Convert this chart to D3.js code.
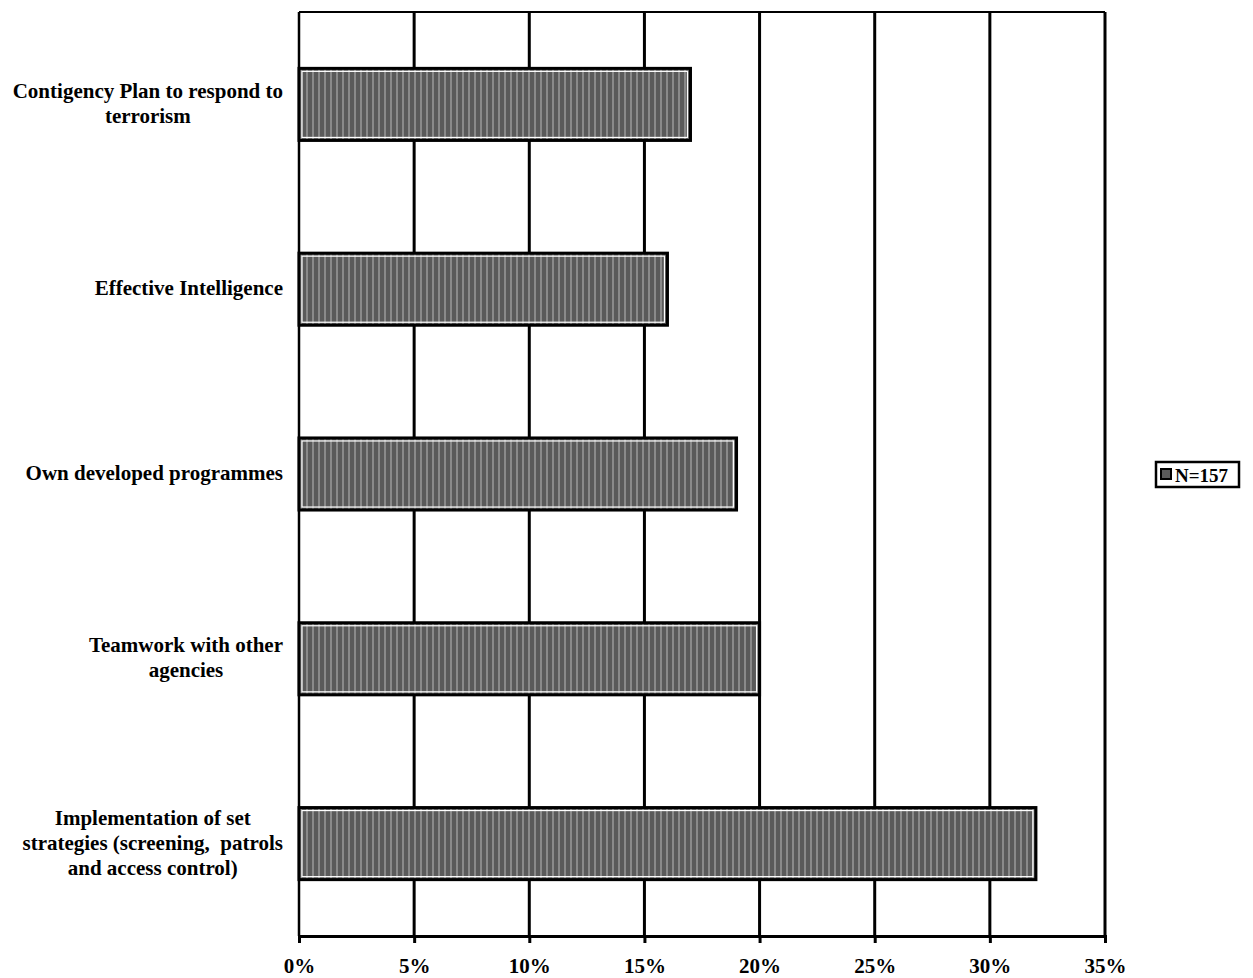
<!DOCTYPE html>
<html><head><meta charset="utf-8">
<script src="https://cdn.jsdelivr.net/npm/d3@7"></script>
<style>body{margin:0;background:#fff}svg{display:block}text{white-space:pre}</style>
</head><body>
<script>
const categories = [
  ["Contigency Plan to respond to", "terrorism"],
  ["Effective Intelligence"],
  ["Own developed programmes"],
  ["Teamwork with other", "agencies"],
  ["Implementation of set", "strategies (screening,  patrols", "and access control)"]
];
const values = [17, 16, 19, 20, 32];
const ticks = [0, 5, 10, 15, 20, 25, 30, 35];
const seriesName = "N=157";

const W = 1253, H = 978;
const svg = d3.select("body").append("svg").attr("width", W).attr("height", H);
const font = "'Liberation Serif','Times New Roman',serif";

const x = d3.scaleLinear().domain([0, 35]).range([299, 1105]);
const y = d3.scaleBand().domain(d3.range(categories.length)).range([12, 936]).paddingInner(0.61).paddingOuter(0.305);

// gridlines
svg.append("g").selectAll("line").data(ticks).join("line")
  .attr("x1", d => x(d)).attr("x2", d => x(d)).attr("y1", 12).attr("y2", 936)
  .attr("stroke", "#000").attr("stroke-width", d => d === 0 ? 2.5 : 3);
svg.append("line").attr("x1", x(0)).attr("x2", x(35)).attr("y1", 12).attr("y2", 12).attr("stroke", "#000").attr("stroke-width", 2);

// bottom axis
const ax = svg.append("g").attr("transform", "translate(0,936)")
  .call(d3.axisBottom(x).tickValues(ticks).tickFormat(d => d + "%").tickSize(7).tickPadding(15));
ax.select(".domain").attr("stroke-width", 3);
ax.selectAll(".tick line").attr("stroke-width", 3);
ax.selectAll("text").attr("font-family", font).attr("font-weight", "bold").attr("font-size", 21).attr("fill", "#000");

// pattern
const defs = svg.append("defs");
const pat = defs.append("pattern").attr("id", "stripe").attr("width", 6).attr("height", 4).attr("patternUnits", "userSpaceOnUse");
pat.append("rect").attr("width", 6).attr("height", 4).attr("fill", "#5a5a5a");
pat.append("rect").attr("width", 2).attr("height", 4).attr("fill", "#8a8a8a");

// bars
const bars = svg.append("g").selectAll("g").data(values).join("g");
bars.append("rect")
  .attr("x", x(0)).attr("y", (d, i) => y(i))
  .attr("width", d => x(d) - x(0)).attr("height", y.bandwidth())
  .attr("fill", "url(#stripe)").attr("stroke", "#000").attr("stroke-width", 3);
bars.append("rect")
  .attr("x", x(0) + 3).attr("y", (d, i) => y(i) + 3)
  .attr("width", d => x(d) - x(0) - 6).attr("height", y.bandwidth() - 6)
  .attr("fill", "none").attr("stroke", "#fff").attr("stroke-width", 1.2);

// category labels
const lh = 25;
categories.forEach((lines, i) => {
  const cy = y(i) + y.bandwidth() / 2;
  const g = svg.append("g");
  const texts = lines.map((l, k) => g.append("text")
    .attr("font-family", font).attr("font-weight", "bold").attr("font-size", 21)
    .attr("fill", "#000").attr("text-anchor", "middle")
    .attr("y", cy + (k - (lines.length - 1) / 2) * lh + 6).text(l));
  const maxW = d3.max(texts, t => t.node().getComputedTextLength());
  const cx = 283 - maxW / 2;
  texts.forEach(t => t.attr("x", cx));
});

// legend
const lg = svg.append("g");
lg.append("rect").attr("x", 1156).attr("y", 462).attr("width", 83).attr("height", 25)
  .attr("fill", "#fff").attr("stroke", "#000").attr("stroke-width", 2.5);
lg.append("rect").attr("x", 1161).attr("y", 469).attr("width", 10).attr("height", 10)
  .attr("fill", "#5a5a5a").attr("stroke", "#000").attr("stroke-width", 2);
lg.append("text").attr("x", 1175).attr("y", 482).attr("font-family", font).attr("font-weight", "bold")
  .attr("font-size", 19).attr("fill", "#000").text(seriesName);
</script>
</body></html>
